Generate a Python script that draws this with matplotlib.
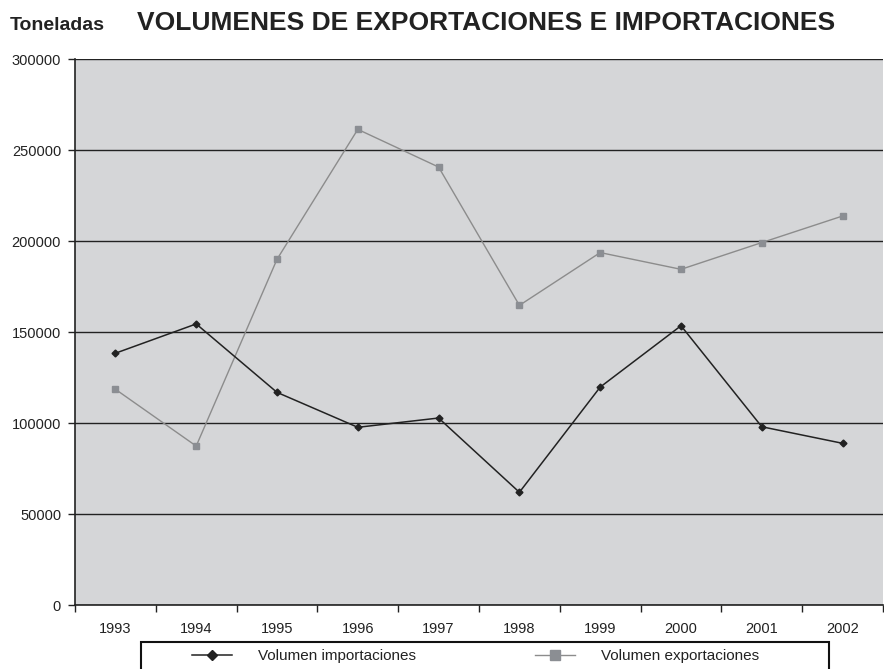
import matplotlib.pyplot as plt
from matplotlib.patches import Rectangle
from matplotlib.lines import Line2D

###
### Data
###
years = ['1993', '1994', '1995', '1996', '1997',
         '1998', '1999', '2000', '2001', '2002']
importaciones = [138500, 154600, 117000, 97800, 102900,
                 62100, 119900, 153600, 98100, 89000]
exportaciones = [118700, 87500, 190100, 261500, 240800,
                 164800, 193800, 184600, 199300, 213900]

plt.rcParams['font.family'] = ['Liberation Sans', 'DejaVu Sans']

W, H = 884, 669
fig = plt.figure(figsize=(W/100, H/100), dpi=100)
ax = fig.add_axes([75/W, (H-605.3)/H, 808/W, 546/H])

x = list(range(len(years)))
ax.plot(x, importaciones, color='#222222', lw=1.1,
        marker='D', ms=3.5, mfc='#222222', mec='#222222', zorder=4)
ax.plot(x, exportaciones, color='#8c8c8c', lw=1.0,
        marker='s', ms=5, mfc='#8b8e93', mec='#8b8e93', zorder=3)

ax.set_facecolor('#d5d6d8')
ax.set_xlim(-0.5, 9.5)
ax.set_ylim(0, 300000)
ax.set_yticks(range(0, 300001, 50000))
ax.set_yticklabels([str(v) for v in range(0, 300001, 50000)])
ax.yaxis.grid(True, color='#222222', lw=1.0)
ax.set_axisbelow(True)

ax.set_xticks(x)
ax.set_xticklabels(years)
ax.set_xticks([i - 0.5 for i in range(len(years) + 1)], minor=True)
ax.tick_params(axis='x', which='major', length=0, pad=12, labelsize=10.5,
               colors='#222222')
ax.tick_params(axis='x', which='minor', length=5, width=1,
               color='#222222', direction='out')
ax.tick_params(axis='y', length=5, width=1, color='#222222',
               direction='out', pad=5, labelsize=10.5, colors='#222222')
for s in ['top', 'right']:
    ax.spines[s].set_visible(False)
for s in ['left', 'bottom']:
    ax.spines[s].set_color('#222222')
    ax.spines[s].set_linewidth(1.2)

fig.text(10/W, 1 - 30/H, 'Toneladas', fontsize=14, fontweight='bold',
         color='#222222', va='baseline', ha='left')
fig.text(486/W, 1 - 30/H, 'VOLUMENES DE EXPORTACIONES E IMPORTACIONES',
         fontsize=19, fontweight='bold', color='#222222',
         va='baseline', ha='center')

# legend box, bottom cut off by the figure edge
fig.patches.append(Rectangle((141/W, -0.05), (829-141)/W, 0.05 + (H-642)/H,
                             transform=fig.transFigure, fill=False,
                             ec='#111111', lw=1.5))
handles = [
    Line2D([], [], color='#222222', lw=1.1, marker='D', ms=5,
           mfc='#222222', mec='#222222'),
    Line2D([], [], color='#8c8c8c', lw=1.0, marker='s', ms=7,
           mfc='#8b8e93', mec='#8b8e93'),
]
fig.legend(handles, ['Volumen importaciones', 'Volumen exportaciones'],
           loc='center left', bbox_to_anchor=(192/W, 1 - 656/H),
           ncol=2, frameon=False, fontsize=11, borderpad=0,
           borderaxespad=0, handlelength=2.6, handletextpad=1.7,
           columnspacing=7.8, labelcolor='#222222')

fig.savefig('out.png', dpi=100)
